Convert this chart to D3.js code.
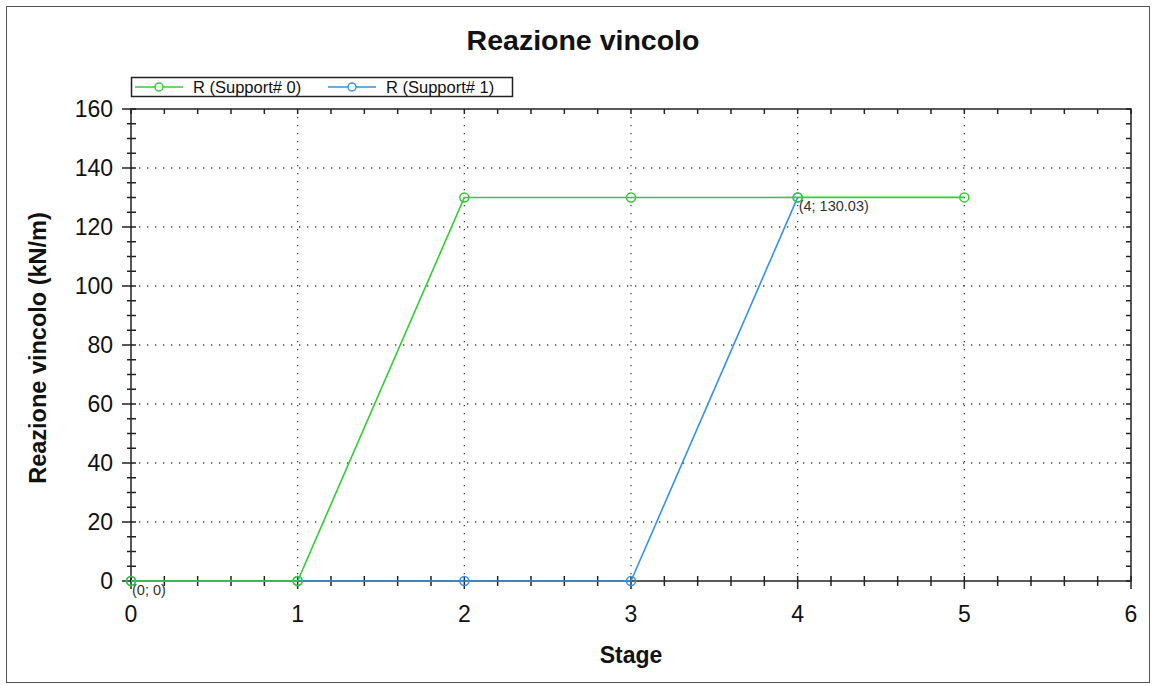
<!DOCTYPE html>
<html>
<head>
<meta charset="utf-8">
<script src="https://cdn.jsdelivr.net/npm/d3@7"></script>
<style>
    body { margin: 0; background: #fff; }
    svg { font-family: "Liberation Sans", Arial, sans-serif; }
</style>
</head>
<body>
<script>
// chart data
const stages = [0, 1, 2, 3, 4, 5];
const support0 = [0, 0, 130, 130, 130.03, 130.03];
const support1 = [0, 0, 0, 0, 130.03];
const seriesNames = ['R (Support# 0)', 'R (Support# 1)'];
const xTicks = [0, 1, 2, 3, 4, 5, 6];
const yTicks = [0, 20, 40, 60, 80, 100, 120, 140, 160];
const annotations = [{ x: 0, y: 0, label: '(0; 0)' }, { x: 4, y: 130.03, label: '(4; 130.03)' }];

const width = 1156, height = 686;
const margin = { 'top': 109, 'bottom': 105, 'left': 131, 'right': 24 };
const green = '#33cc33', blue = '#3392e8';

const svg = d3.select('body').append('svg')
    .attr('width', width)
    .attr('height', height);

// outer frame
svg.append('rect')
    .attr('x', 6.5).attr('y', 6.5)
    .attr('width', 1143).attr('height', 676)
    .attr('fill', 'none')
    .attr('stroke', '#555')
    .attr('stroke-width', 1);

let xScale = d3.scaleLinear().domain([0, 6]).range([margin.left, width - margin.right - 1]);
let yScale = d3.scaleLinear().domain([0, 160]).range([height - margin.bottom, margin.top]);

const x0 = xScale.range()[0], x1 = xScale.range()[1];
const y0 = yScale.range()[0], y1 = yScale.range()[1];

// grid
svg.append('g')
    .selectAll('line')
    .data(xTicks.slice(1, -1))
    .enter().append('line')
    .attr('x1', d => xScale(d)).attr('x2', d => xScale(d))
    .attr('y1', y1).attr('y2', y0)
    .attr('stroke', '#444')
    .attr('stroke-width', 1.3)
    .attr('stroke-dasharray', '1.3,6.7');

svg.append('g')
    .selectAll('line')
    .data(yTicks.slice(1, -1))
    .enter().append('line')
    .attr('x1', x0).attr('x2', x1)
    .attr('y1', d => yScale(d)).attr('y2', d => yScale(d))
    .attr('stroke', '#444')
    .attr('stroke-width', 1.3)
    .attr('stroke-dasharray', '1.3,6.7');

// plot box
svg.append('rect')
    .attr('x', x0).attr('y', y1)
    .attr('width', x1 - x0).attr('height', y0 - y1)
    .attr('fill', 'none')
    .attr('stroke', '#222')
    .attr('stroke-width', 1.5);

// axes: ticks drawn manually (major + minor)
const xMinor = d3.range(0, 6.0001, 0.2);
const yMinor = d3.range(0, 160.001, 5);
let tickG = svg.append('g').attr('stroke', '#222').attr('stroke-width', 1.5);

xMinor.forEach(v => {
    let major = Math.abs(v - Math.round(v)) < 1e-6;
    tickG.append('line')
        .attr('x1', xScale(v)).attr('x2', xScale(v))
        .attr('y1', y0 - 5).attr('y2', y0 + (major ? 8 : 5));
    // top inner ticks
    tickG.append('line')
        .attr('x1', xScale(v)).attr('x2', xScale(v))
        .attr('y1', y1).attr('y2', y1 + 5);
});
yMinor.forEach(v => {
    let major = v % 20 === 0;
    tickG.append('line')
        .attr('x1', x0 - (major ? 9 : 4)).attr('x2', x0 + 5)
        .attr('y1', yScale(v)).attr('y2', yScale(v));
    tickG.append('line')
        .attr('x1', x1 - 5).attr('x2', x1)
        .attr('y1', yScale(v)).attr('y2', yScale(v));
});

// tick labels
svg.append('g')
    .selectAll('text')
    .data(xTicks)
    .enter().append('text')
    .attr('x', d => xScale(d))
    .attr('y', y0 + 41)
    .attr('text-anchor', 'middle')
    .attr('font-size', 23)
    .attr('fill', '#111')
    .text(d => d);

svg.append('g')
    .selectAll('text')
    .data(yTicks)
    .enter().append('text')
    .attr('x', x0 - 18)
    .attr('y', d => yScale(d) + 8)
    .attr('text-anchor', 'end')
    .attr('font-size', 23)
    .attr('fill', '#111')
    .text(d => d);

// titles
svg.append('text')
    .attr('x', 583).attr('y', 50)
    .attr('text-anchor', 'middle')
    .attr('font-size', 28.5)
    .attr('font-weight', 'bold')
    .attr('fill', '#111')
    .text('Reazione vincolo');

svg.append('text')
    .attr('x', 631).attr('y', 663)
    .attr('text-anchor', 'middle')
    .attr('font-size', 23)
    .attr('font-weight', 'bold')
    .attr('fill', '#111')
    .text('Stage');

svg.append('text')
    .attr('transform', 'translate(46,' + ((y0 + y1) / 2 + 3) + ') rotate(-90)')
    .attr('text-anchor', 'middle')
    .attr('font-size', 23.5)
    .attr('font-weight', 'bold')
    .attr('fill', '#111')
    .text('Reazione vincolo (kN/m)');

// series
let line = d3.line()
    .x(d => xScale(d.x))
    .y(d => yScale(d.y));

const series = [
    { name: seriesNames[1], color: blue, data: support1.map((v, i) => ({ x: stages[i], y: v })) },
    { name: seriesNames[0], color: green, data: support0.map((v, i) => ({ x: stages[i], y: v })) }
];

series.forEach(s => {
    svg.append('path')
        .datum(s.data)
        .attr('fill', 'none')
        .attr('stroke', s.color)
        .attr('stroke-width', 1.6)
        .attr('d', line);
    svg.append('g')
        .selectAll('circle')
        .data(s.data)
        .enter().append('circle')
        .attr('cx', d => xScale(d.x))
        .attr('cy', d => yScale(d.y))
        .attr('r', 4.5)
        .attr('fill', 'none')
        .attr('stroke', s.color)
        .attr('stroke-width', 1.5);
});

// point annotations
svg.append('g')
    .selectAll('text')
    .data(annotations)
    .enter().append('text')
    .attr('x', d => xScale(d.x) + 1)
    .attr('y', d => yScale(d.y) + 14)
    .attr('font-size', 14.5)
    .attr('fill', '#333')
    .text(d => d.label);

// legend
let legend = svg.append('g');
legend.append('rect')
    .attr('x', 131.5).attr('y', 77.5)
    .attr('width', 381).attr('height', 19)
    .attr('fill', '#fff')
    .attr('stroke', '#222')
    .attr('stroke-width', 1.5);

[{ name: seriesNames[0], color: green, x: 135 }, { name: seriesNames[1], color: blue, x: 328 }].forEach(e => {
    legend.append('line')
        .attr('x1', e.x).attr('x2', e.x + 48)
        .attr('y1', 87).attr('y2', 87)
        .attr('stroke', e.color)
        .attr('stroke-width', 1.5);
    legend.append('circle')
        .attr('cx', e.x + 24).attr('cy', 87).attr('r', 4)
        .attr('fill', '#fff')
        .attr('stroke', e.color)
        .attr('stroke-width', 1.5);
    legend.append('text')
        .attr('x', e.x + 58).attr('y', 93)
        .attr('font-size', 16.5)
        .attr('fill', '#111')
        .text(e.name);
});
</script>
</body>
</html>
